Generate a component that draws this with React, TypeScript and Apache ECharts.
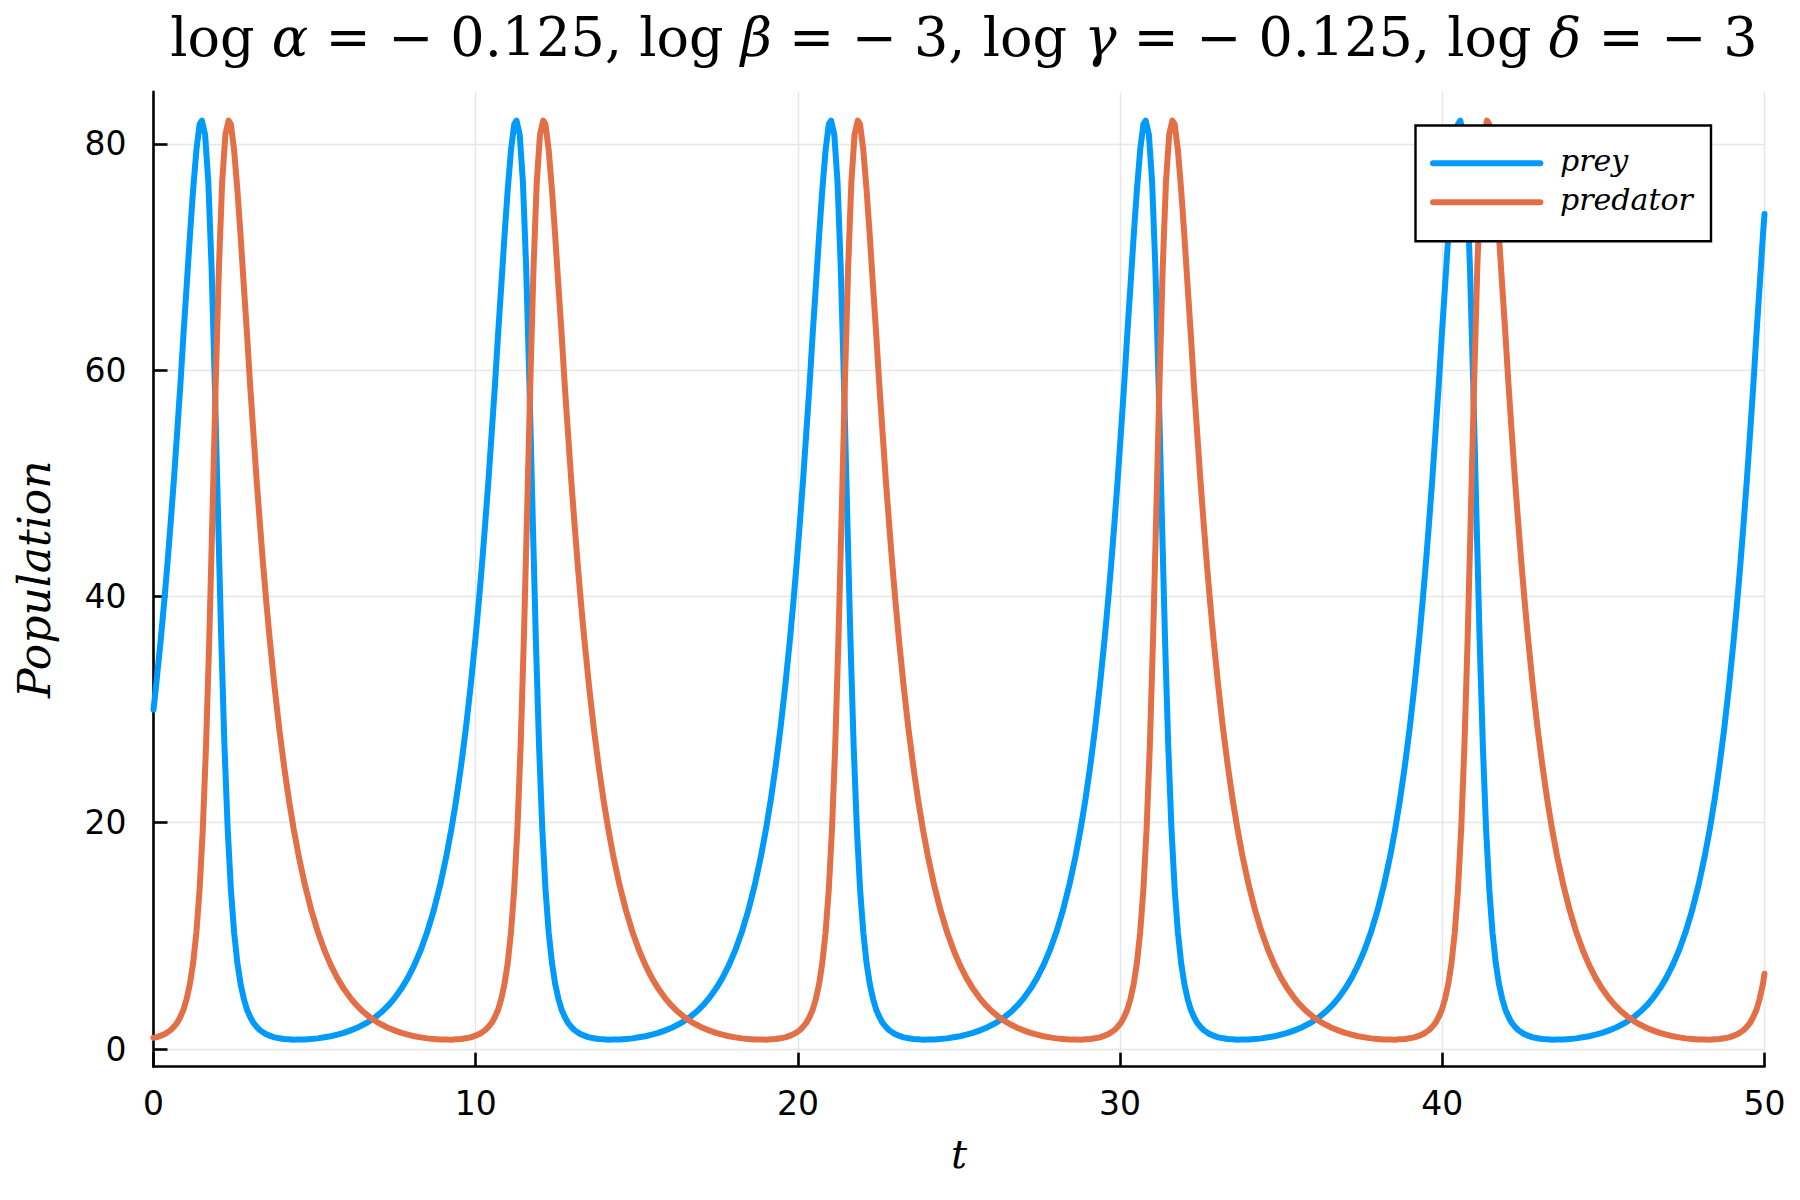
import React, { useEffect, useRef } from "react";
import * as echarts from "echarts";

const seriesNames = ["prey", "predator"];
const seriesColors = ["#009AFA", "#E26F46"];
const xTickValues = [0, 10, 20, 30, 40, 50];
const yTickValues = [0, 20, 40, 60, 80];
const xRange = [0, 50];
const yRange = [-1.56, 84.6];

const preyTime = [
  0, 0.081, 0.231, 0.331, 0.431, 0.531, 0.631, 0.731, 0.831, 0.931, 1.031, 1.131, 1.231, 1.331, 1.431, 1.502, 1.602, 1.702, 1.802, 1.902, 2.002, 2.102, 2.202, 2.302, 2.402, 2.502, 2.602, 2.702, 2.802, 2.902, 3.002, 3.102, 3.202, 3.302, 3.402, 3.502, 3.602, 3.752, 3.902, 4.052, 4.202, 4.352, 4.502, 4.702, 4.902, 5.102, 5.302, 5.502, 5.702, 5.902, 6.102, 6.302, 6.502,
  6.695, 6.895, 7.095, 7.295, 7.495, 7.695, 7.895, 8.095, 8.295, 8.495, 8.695, 8.895, 9.095, 9.245, 9.395, 9.545, 9.695, 9.845, 9.995, 10.095, 10.195, 10.295, 10.395, 10.495, 10.595, 10.695, 10.795, 10.895, 10.995, 11.095, 11.195, 11.266, 11.366, 11.466, 11.566, 11.666, 11.766, 11.866, 11.966, 12.066, 12.166, 12.266, 12.366, 12.466, 12.566, 12.666, 12.766, 12.866, 12.966, 13.066, 13.166, 13.266, 13.366, 13.516, 13.666, 13.816, 13.966, 14.116, 14.266, 14.466, 14.666, 14.866, 15.066, 15.266, 15.466, 15.666, 15.866, 16.066, 16.266,
  16.459, 16.659, 16.859, 17.059, 17.259, 17.459, 17.659, 17.859, 18.059, 18.259, 18.459, 18.659, 18.859, 19.009, 19.159, 19.309, 19.459, 19.609, 19.759, 19.859, 19.959, 20.059, 20.159, 20.259, 20.359, 20.459, 20.559, 20.659, 20.759, 20.859, 20.959, 21.03, 21.13, 21.23, 21.33, 21.43, 21.53, 21.63, 21.73, 21.83, 21.93, 22.03, 22.13, 22.23, 22.33, 22.43, 22.53, 22.63, 22.73, 22.83, 22.93, 23.03, 23.13, 23.28, 23.43, 23.58, 23.73, 23.88, 24.03, 24.23, 24.43, 24.63, 24.83, 25.03, 25.23, 25.43, 25.63, 25.83, 26.03,
  26.223, 26.423, 26.623, 26.823, 27.023, 27.223, 27.423, 27.623, 27.823, 28.023, 28.223, 28.423, 28.623, 28.773, 28.923, 29.073, 29.223, 29.373, 29.523, 29.623, 29.723, 29.823, 29.923, 30.023, 30.123, 30.223, 30.323, 30.423, 30.523, 30.623, 30.723, 30.794, 30.894, 30.994, 31.094, 31.194, 31.294, 31.394, 31.494, 31.594, 31.694, 31.794, 31.894, 31.994, 32.094, 32.194, 32.294, 32.394, 32.494, 32.594, 32.694, 32.794, 32.894, 33.044, 33.194, 33.344, 33.494, 33.644, 33.794, 33.994, 34.194, 34.394, 34.594, 34.794, 34.994, 35.194, 35.394, 35.594, 35.794,
  35.987, 36.187, 36.387, 36.587, 36.787, 36.987, 37.187, 37.387, 37.587, 37.787, 37.987, 38.187, 38.387, 38.537, 38.687, 38.837, 38.987, 39.137, 39.287, 39.387, 39.487, 39.587, 39.687, 39.787, 39.887, 39.987, 40.087, 40.187, 40.287, 40.387, 40.487, 40.558, 40.658, 40.758, 40.858, 40.958, 41.058, 41.158, 41.258, 41.358, 41.458, 41.558, 41.658, 41.758, 41.858, 41.958, 42.058, 42.158, 42.258, 42.358, 42.458, 42.558, 42.658, 42.808, 42.958, 43.108, 43.258, 43.408, 43.558, 43.758, 43.958, 44.158, 44.358, 44.558, 44.758, 44.958, 45.158, 45.358, 45.558,
  45.751, 45.951, 46.151, 46.351, 46.551, 46.751, 46.951, 47.151, 47.351, 47.551, 47.751, 47.951, 48.151, 48.301, 48.451, 48.601, 48.751, 48.901, 49.051, 49.151, 49.251, 49.351, 49.451, 49.551, 49.651, 49.751, 49.851, 49.951, 50,
];

const preyPop = [
  30.0, 32.13, 36.36, 39.49, 42.81, 46.44, 50.23, 54.37, 58.56, 63.19, 67.5, 71.9, 75.98, 79.43, 81.71, 82.05, 80.81, 76.58, 69.07, 58.87, 47.35, 36.26, 26.82, 19.48, 14.11, 10.3, 7.63, 5.76, 4.446, 3.47, 2.828, 2.307, 1.963, 1.67, 1.475, 1.302, 1.187, 1.033, 0.958, 0.885, 0.859, 0.832, 0.837, 0.843, 0.894, 0.944, 1.035, 1.132, 1.271, 1.424, 1.627, 1.855, 2.143,
  2.447, 2.839, 3.315, 3.874, 4.548, 5.341, 6.292, 7.414, 8.755, 10.34, 12.23, 14.47, 17.12, 19.42, 22.03, 25.0, 28.33, 32.13, 36.36, 39.49, 42.81, 46.44, 50.23, 54.37, 58.56, 63.19, 67.5, 71.9, 75.98, 79.43, 81.71, 82.05, 80.81, 76.58, 69.07, 58.87, 47.35, 36.26, 26.82, 19.48, 14.11, 10.3, 7.63, 5.76, 4.446, 3.47, 2.828, 2.307, 1.963, 1.67, 1.475, 1.302, 1.187, 1.033, 0.958, 0.885, 0.859, 0.832, 0.837, 0.843, 0.894, 0.944, 1.035, 1.132, 1.271, 1.424, 1.627, 1.855, 2.143,
  2.447, 2.839, 3.315, 3.874, 4.548, 5.341, 6.292, 7.414, 8.755, 10.34, 12.23, 14.47, 17.12, 19.42, 22.03, 25.0, 28.33, 32.13, 36.36, 39.49, 42.81, 46.44, 50.23, 54.37, 58.56, 63.19, 67.5, 71.9, 75.98, 79.43, 81.71, 82.05, 80.81, 76.58, 69.07, 58.87, 47.35, 36.26, 26.82, 19.48, 14.11, 10.3, 7.63, 5.76, 4.446, 3.47, 2.828, 2.307, 1.963, 1.67, 1.475, 1.302, 1.187, 1.033, 0.958, 0.885, 0.859, 0.832, 0.837, 0.843, 0.894, 0.944, 1.035, 1.132, 1.271, 1.424, 1.627, 1.855, 2.143,
  2.447, 2.839, 3.315, 3.874, 4.548, 5.341, 6.292, 7.414, 8.755, 10.34, 12.23, 14.47, 17.12, 19.42, 22.03, 25.0, 28.33, 32.13, 36.36, 39.49, 42.81, 46.44, 50.23, 54.37, 58.56, 63.19, 67.5, 71.9, 75.98, 79.43, 81.71, 82.05, 80.81, 76.58, 69.07, 58.87, 47.35, 36.26, 26.82, 19.48, 14.11, 10.3, 7.63, 5.76, 4.446, 3.47, 2.828, 2.307, 1.963, 1.67, 1.475, 1.302, 1.187, 1.033, 0.958, 0.885, 0.859, 0.832, 0.837, 0.843, 0.894, 0.944, 1.035, 1.132, 1.271, 1.424, 1.627, 1.855, 2.143,
  2.447, 2.839, 3.315, 3.874, 4.548, 5.341, 6.292, 7.414, 8.755, 10.34, 12.23, 14.47, 17.12, 19.42, 22.03, 25.0, 28.33, 32.13, 36.36, 39.49, 42.81, 46.44, 50.23, 54.37, 58.56, 63.19, 67.5, 71.9, 75.98, 79.43, 81.71, 82.05, 80.81, 76.58, 69.07, 58.87, 47.35, 36.26, 26.82, 19.48, 14.11, 10.3, 7.63, 5.76, 4.446, 3.47, 2.828, 2.307, 1.963, 1.67, 1.475, 1.302, 1.187, 1.033, 0.958, 0.885, 0.859, 0.832, 0.837, 0.843, 0.894, 0.944, 1.035, 1.132, 1.271, 1.424, 1.627, 1.855, 2.143,
  2.447, 2.839, 3.315, 3.874, 4.548, 5.341, 6.292, 7.414, 8.755, 10.34, 12.23, 14.47, 17.12, 19.42, 22.03, 25.0, 28.33, 32.13, 36.36, 39.49, 42.81, 46.44, 50.23, 54.37, 58.56, 63.19, 67.5, 71.9, 73.8,
];

const predatorTime = [
  0, 0.081, 0.231, 0.331, 0.431, 0.531, 0.631, 0.731, 0.831, 0.931, 1.031, 1.131, 1.231, 1.331, 1.431, 1.531, 1.631, 1.731, 1.831, 1.931, 2.031, 2.131, 2.231, 2.331, 2.402, 2.502, 2.602, 2.702, 2.802, 2.902, 3.002, 3.102, 3.202, 3.302, 3.402, 3.502, 3.602, 3.752, 3.902, 4.052, 4.202, 4.352, 4.502, 4.702, 4.902, 5.102, 5.302, 5.502, 5.702, 5.902, 6.102, 6.302, 6.502, 6.702, 6.902,
  7.095, 7.295, 7.495, 7.695, 7.895, 8.095, 8.295, 8.495, 8.695, 8.895, 9.095, 9.245, 9.395, 9.545, 9.695, 9.845, 9.995, 10.095, 10.195, 10.295, 10.395, 10.495, 10.595, 10.695, 10.795, 10.895, 10.995, 11.095, 11.195, 11.295, 11.395, 11.495, 11.595, 11.695, 11.795, 11.895, 11.995, 12.095, 12.166, 12.266, 12.366, 12.466, 12.566, 12.666, 12.766, 12.866, 12.966, 13.066, 13.166, 13.266, 13.366, 13.516, 13.666, 13.816, 13.966, 14.116, 14.266, 14.466, 14.666, 14.866, 15.066, 15.266, 15.466, 15.666, 15.866, 16.066, 16.266, 16.466, 16.666,
  16.859, 17.059, 17.259, 17.459, 17.659, 17.859, 18.059, 18.259, 18.459, 18.659, 18.859, 19.009, 19.159, 19.309, 19.459, 19.609, 19.759, 19.859, 19.959, 20.059, 20.159, 20.259, 20.359, 20.459, 20.559, 20.659, 20.759, 20.859, 20.959, 21.059, 21.159, 21.259, 21.359, 21.459, 21.559, 21.659, 21.759, 21.859, 21.93, 22.03, 22.13, 22.23, 22.33, 22.43, 22.53, 22.63, 22.73, 22.83, 22.93, 23.03, 23.13, 23.28, 23.43, 23.58, 23.73, 23.88, 24.03, 24.23, 24.43, 24.63, 24.83, 25.03, 25.23, 25.43, 25.63, 25.83, 26.03, 26.23, 26.43,
  26.623, 26.823, 27.023, 27.223, 27.423, 27.623, 27.823, 28.023, 28.223, 28.423, 28.623, 28.773, 28.923, 29.073, 29.223, 29.373, 29.523, 29.623, 29.723, 29.823, 29.923, 30.023, 30.123, 30.223, 30.323, 30.423, 30.523, 30.623, 30.723, 30.823, 30.923, 31.023, 31.123, 31.223, 31.323, 31.423, 31.523, 31.623, 31.694, 31.794, 31.894, 31.994, 32.094, 32.194, 32.294, 32.394, 32.494, 32.594, 32.694, 32.794, 32.894, 33.044, 33.194, 33.344, 33.494, 33.644, 33.794, 33.994, 34.194, 34.394, 34.594, 34.794, 34.994, 35.194, 35.394, 35.594, 35.794, 35.994, 36.194,
  36.387, 36.587, 36.787, 36.987, 37.187, 37.387, 37.587, 37.787, 37.987, 38.187, 38.387, 38.537, 38.687, 38.837, 38.987, 39.137, 39.287, 39.387, 39.487, 39.587, 39.687, 39.787, 39.887, 39.987, 40.087, 40.187, 40.287, 40.387, 40.487, 40.587, 40.687, 40.787, 40.887, 40.987, 41.087, 41.187, 41.287, 41.387, 41.458, 41.558, 41.658, 41.758, 41.858, 41.958, 42.058, 42.158, 42.258, 42.358, 42.458, 42.558, 42.658, 42.808, 42.958, 43.108, 43.258, 43.408, 43.558, 43.758, 43.958, 44.158, 44.358, 44.558, 44.758, 44.958, 45.158, 45.358, 45.558, 45.758, 45.958,
  46.151, 46.351, 46.551, 46.751, 46.951, 47.151, 47.351, 47.551, 47.751, 47.951, 48.151, 48.301, 48.451, 48.601, 48.751, 48.901, 49.051, 49.151, 49.251, 49.351, 49.451, 49.551, 49.651, 49.751, 49.851, 49.951, 50,
];

const predatorPop = [
  1.0, 1.033, 1.187, 1.302, 1.475, 1.67, 1.963, 2.307, 2.828, 3.47, 4.446, 5.76, 7.63, 10.3, 14.11, 19.48, 26.82, 36.26, 47.35, 58.87, 69.07, 76.58, 80.81, 82.05, 81.71, 79.43, 75.98, 71.9, 67.5, 63.19, 58.56, 54.37, 50.23, 46.44, 42.81, 39.49, 36.36, 32.13, 28.33, 25.0, 22.03, 19.42, 17.12, 14.47, 12.23, 10.34, 8.755, 7.414, 6.292, 5.341, 4.548, 3.874, 3.315, 2.839, 2.447,
  2.143, 1.855, 1.627, 1.424, 1.271, 1.132, 1.035, 0.944, 0.894, 0.843, 0.837, 0.832, 0.859, 0.885, 0.958, 1.033, 1.187, 1.302, 1.475, 1.67, 1.963, 2.307, 2.828, 3.47, 4.446, 5.76, 7.63, 10.3, 14.11, 19.48, 26.82, 36.26, 47.35, 58.87, 69.07, 76.58, 80.81, 82.05, 81.71, 79.43, 75.98, 71.9, 67.5, 63.19, 58.56, 54.37, 50.23, 46.44, 42.81, 39.49, 36.36, 32.13, 28.33, 25.0, 22.03, 19.42, 17.12, 14.47, 12.23, 10.34, 8.755, 7.414, 6.292, 5.341, 4.548, 3.874, 3.315, 2.839, 2.447,
  2.143, 1.855, 1.627, 1.424, 1.271, 1.132, 1.035, 0.944, 0.894, 0.843, 0.837, 0.832, 0.859, 0.885, 0.958, 1.033, 1.187, 1.302, 1.475, 1.67, 1.963, 2.307, 2.828, 3.47, 4.446, 5.76, 7.63, 10.3, 14.11, 19.48, 26.82, 36.26, 47.35, 58.87, 69.07, 76.58, 80.81, 82.05, 81.71, 79.43, 75.98, 71.9, 67.5, 63.19, 58.56, 54.37, 50.23, 46.44, 42.81, 39.49, 36.36, 32.13, 28.33, 25.0, 22.03, 19.42, 17.12, 14.47, 12.23, 10.34, 8.755, 7.414, 6.292, 5.341, 4.548, 3.874, 3.315, 2.839, 2.447,
  2.143, 1.855, 1.627, 1.424, 1.271, 1.132, 1.035, 0.944, 0.894, 0.843, 0.837, 0.832, 0.859, 0.885, 0.958, 1.033, 1.187, 1.302, 1.475, 1.67, 1.963, 2.307, 2.828, 3.47, 4.446, 5.76, 7.63, 10.3, 14.11, 19.48, 26.82, 36.26, 47.35, 58.87, 69.07, 76.58, 80.81, 82.05, 81.71, 79.43, 75.98, 71.9, 67.5, 63.19, 58.56, 54.37, 50.23, 46.44, 42.81, 39.49, 36.36, 32.13, 28.33, 25.0, 22.03, 19.42, 17.12, 14.47, 12.23, 10.34, 8.755, 7.414, 6.292, 5.341, 4.548, 3.874, 3.315, 2.839, 2.447,
  2.143, 1.855, 1.627, 1.424, 1.271, 1.132, 1.035, 0.944, 0.894, 0.843, 0.837, 0.832, 0.859, 0.885, 0.958, 1.033, 1.187, 1.302, 1.475, 1.67, 1.963, 2.307, 2.828, 3.47, 4.446, 5.76, 7.63, 10.3, 14.11, 19.48, 26.82, 36.26, 47.35, 58.87, 69.07, 76.58, 80.81, 82.05, 81.71, 79.43, 75.98, 71.9, 67.5, 63.19, 58.56, 54.37, 50.23, 46.44, 42.81, 39.49, 36.36, 32.13, 28.33, 25.0, 22.03, 19.42, 17.12, 14.47, 12.23, 10.34, 8.755, 7.414, 6.292, 5.341, 4.548, 3.874, 3.315, 2.839, 2.447,
  2.143, 1.855, 1.627, 1.424, 1.271, 1.132, 1.035, 0.944, 0.894, 0.843, 0.837, 0.832, 0.859, 0.885, 0.958, 1.033, 1.187, 1.302, 1.475, 1.67, 1.963, 2.307, 2.828, 3.47, 4.446, 5.76, 6.65,
];

const titleRich =
  "{r|log }{i|α}{r| = − 0.125, log }{i|β}{r| = − 3, log }{i|γ}{r| = − 0.125, log }{i|δ}{r| = − 3}";
const xAxisLabel = "t";
const yAxisLabel = "Population";

function pairs(ts: number[], vs: number[]) {
  return ts.map((t, i) => [t, vs[i]]);
}

export default function App() {
  const ref = useRef<HTMLDivElement>(null);
  useEffect(() => {
    if (!ref.current) return;
    const chart = echarts.init(ref.current, null, { renderer: "svg" });
    const axisColor = "#000";
    const tickFont = { fontFamily: "DejaVu Sans", fontSize: 33, color: "#000" };
    const gridLine = { color: "#e6e6e6", width: 1.4 };
    const gLeft = 153.5;
    const gTop = 91.7;
    const gRight = 1764.5;
    const gBottom = 1066.7;
    const option: any = {
      animation: false,
      backgroundColor: "#fff",
      title: {
        text: titleRich,
        left: (gLeft + gRight) / 2,
        top: 5,
        textAlign: "center",
        textStyle: {
          fontWeight: "normal",
          rich: {
            r: { fontFamily: "DejaVu Serif", fontWeight: "normal", fontSize: 54, color: "#000" },
            i: {
              fontFamily: "DejaVu Serif",
              fontWeight: "normal",
              fontStyle: "italic",
              fontSize: 54,
              color: "#000",
            },
          },
        },
      },
      grid: {
        left: gLeft,
        top: gTop,
        width: gRight - gLeft,
        height: gBottom - gTop,
        containLabel: false,
      },
      xAxis: {
        type: "value",
        min: xRange[0],
        max: xRange[1],
        interval: 10,
        name: xAxisLabel,
        nameLocation: "middle",
        nameGap: 67,
        nameTextStyle: { fontFamily: "DejaVu Serif", fontStyle: "italic", fontSize: 40, color: "#000" },
        axisLine: { onZero: false, lineStyle: { color: axisColor, width: 2.6 } },
        axisTick: {
          inside: true,
          length: 14,
          customValues: xTickValues,
          lineStyle: { color: axisColor, width: 2.6 },
        },
        axisLabel: { ...tickFont, margin: 20, customValues: xTickValues },
        splitLine: { show: true, lineStyle: gridLine },
      },
      yAxis: {
        type: "value",
        min: yRange[0],
        max: yRange[1],
        splitNumber: 5,
        name: yAxisLabel,
        nameLocation: "middle",
        nameGap: 97,
        nameTextStyle: { fontFamily: "DejaVu Serif", fontStyle: "italic", fontSize: 44, color: "#000" },
        axisLine: { onZero: false, lineStyle: { color: axisColor, width: 2.6 } },
        axisTick: {
          inside: true,
          length: 14,
          customValues: yTickValues,
          lineStyle: { color: axisColor, width: 2.6 },
        },
        axisLabel: {
          ...tickFont,
          margin: 27,
          customValues: yTickValues,
        },
        splitLine: { show: true, lineStyle: gridLine },
      },
      series: [
        {
          name: seriesNames[0],
          type: "line",
          showSymbol: false,
          symbol: "none",
          data: pairs(preyTime, preyPop),
          lineStyle: { color: seriesColors[0], width: 6, join: "round", cap: "round" },
          itemStyle: { color: seriesColors[0] },
          z: 2,
        },
        {
          name: seriesNames[1],
          type: "line",
          showSymbol: false,
          symbol: "none",
          data: pairs(predatorTime, predatorPop),
          lineStyle: { color: seriesColors[1], width: 6, join: "round", cap: "round" },
          itemStyle: { color: seriesColors[1] },
          z: 3,
        },
      ],
      graphic: [
        {
          type: "rect",
          z: 100,
          shape: { x: 1415.5, y: 125.5, width: 295.5, height: 115.8 },
          style: { fill: "#fff", stroke: "#000", lineWidth: 2.4 },
        },
        {
          type: "line",
          z: 101,
          shape: { x1: 1433, y1: 163.3, x2: 1540.3, y2: 163.3 },
          style: { stroke: seriesColors[0], lineWidth: 6, lineCap: "round" },
        },
        {
          type: "line",
          z: 101,
          shape: { x1: 1433, y1: 202.3, x2: 1540.3, y2: 202.3 },
          style: { stroke: seriesColors[1], lineWidth: 6, lineCap: "round" },
        },
        {
          type: "text",
          z: 101,
          x: 1560,
          y: 160,
          style: {
            text: seriesNames[0],
            fontFamily: "DejaVu Serif",
            fontStyle: "italic",
            fontSize: 30,
            fill: "#000",
            align: "left",
            verticalAlign: "middle",
          },
        },
        {
          type: "text",
          z: 101,
          x: 1560,
          y: 199,
          style: {
            text: seriesNames[1],
            fontFamily: "DejaVu Serif",
            fontStyle: "italic",
            fontSize: 30,
            fill: "#000",
            align: "left",
            verticalAlign: "middle",
          },
        },
      ],
    };
    chart.setOption(option);
    return () => chart.dispose();
  }, []);
  return (
    <div
      ref={ref}
      style={{ position: "fixed", left: 0, top: 0, width: 1800, height: 1200, background: "#fff" }}
    />
  );
}
